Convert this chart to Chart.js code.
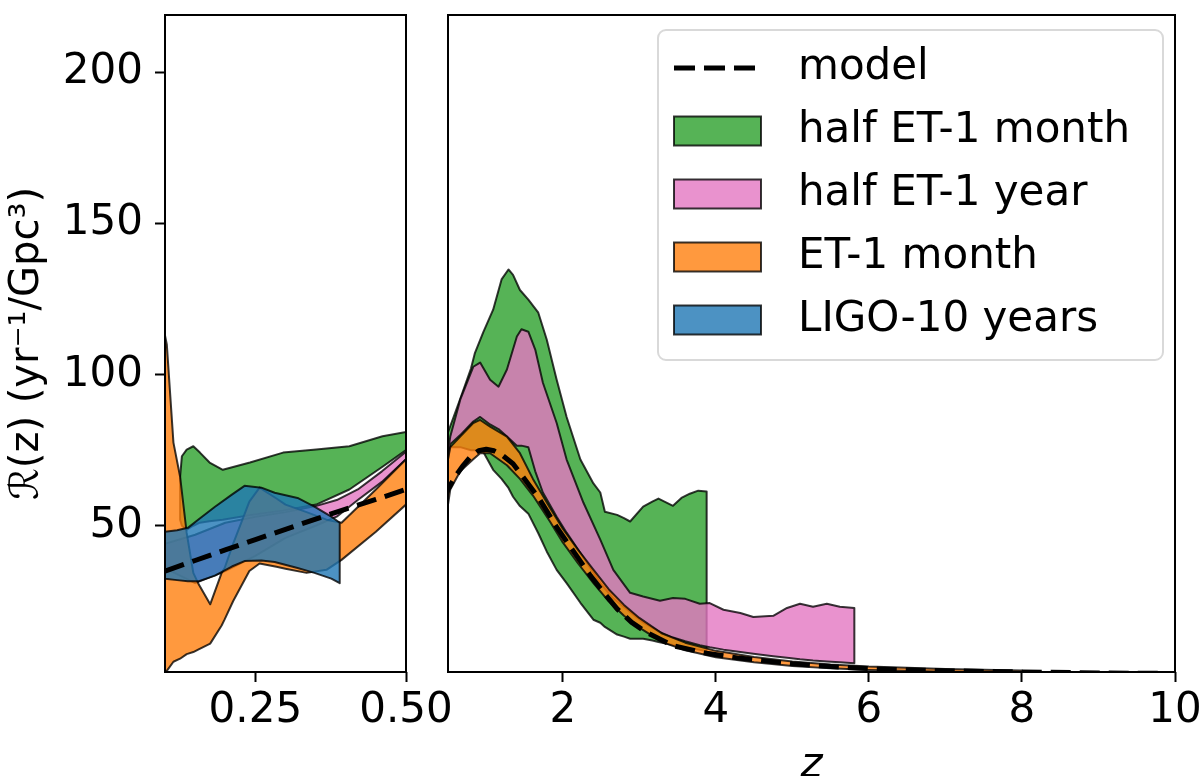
<!DOCTYPE html>
<html>
<head>
<meta charset="utf-8">
<title>R(z)</title>
<script src="https://cdn.jsdelivr.net/npm/chart.js@4.4.1/dist/chart.umd.min.js"></script>
<style>
  html, body { margin: 0; padding: 0; background: #fff; }
  #wrap { position: relative; width: 1200px; height: 776px; overflow: hidden; }
  #leftBox, #rightBox { position: absolute; top: 0; }
  #leftBox { left: 0; }
  #rightBox { left: 420px; }
</style>
</head>
<body>
<div id="wrap">
  <div id="leftBox"><canvas id="leftChart" width="480" height="776"></canvas></div>
  <div id="rightBox"><canvas id="rightChart" width="780" height="776"></canvas></div>
</div>
<script>
Chart.defaults.font.family = 'DejaVu Sans';
Chart.defaults.color = '#000';

const yMin = 1.6, yMax = 219;
const yTicks = [50, 100, 150, 200];
const leftTicks = [0.25, 0.5];
const rightTicks = [2, 4, 6, 8, 10];
const yTitle = 'ℛ(z) (yr⁻¹/Gpc³)';
const xTitle = 'z';
const legendOrder = ['model', 'half ET-1 month', 'half ET-1 year', 'ET-1 month', 'LIGO-10 years'];

// half ET-1 month
const greenZ  = [0.125, 0.128, 0.136, 0.147, 0.158, 0.174, 0.196, 0.241, 0.296, 0.351, 0.406, 0.461, 0.5, 0.53, 0.66, 0.8, 0.85, 0.96, 1.09, 1.2, 1.29, 1.35, 1.44, 1.55, 1.68, 1.79, 1.92, 2.05, 2.23, 2.4, 2.49, 2.55, 2.71, 2.8, 2.88, 3.05, 3.17, 3.25, 3.44, 3.55, 3.66, 3.77, 3.88];
const greenHi = [66, 73, 75.2, 76.3, 74.2, 70.9, 68.5, 70.9, 74.2, 75.2, 76.3, 79.6, 81, 83, 92, 102, 107, 114, 121.5, 131.5, 134.8, 133, 128, 124.8, 120.5, 111.6, 98.3, 86, 71.9, 64, 61, 54.6, 53.6, 52.5, 51.4, 56.3, 58, 59, 56.6, 59.2, 60.6, 61.6, 61.3];
const greenLo = [52, 50, 48.7, 50, 51, 51.5, 52, 53.5, 55, 57, 62, 69.5, 75, 76, 76, 75, 75, 74.5, 68.5, 65.5, 62.5, 59.6, 56.5, 54, 47.5, 41.5, 35.4, 31, 24.5, 18.9, 17.9, 16.5, 14, 13.3, 12.6, 12.6, 12, 11.5, 10.5, 10, 9.5, 9, 8.5];

// half ET-1 year
const pinkZ  = [0.1, 0.15, 0.2, 0.25, 0.3, 0.35, 0.385, 0.42, 0.46, 0.5, 0.53, 0.66, 0.83, 0.92, 1.05, 1.16, 1.27, 1.4, 1.46, 1.55, 1.64, 1.74, 1.92, 2.05, 2.27, 2.49, 2.66, 2.88, 3.05, 3.27, 3.44, 3.6, 3.79, 3.92, 4.1, 4.32, 4.49, 4.75, 4.93, 5.1, 5.27, 5.45, 5.62, 5.81];
const pinkHi = [44, 47, 51, 53, 54.5, 56.5, 58.5, 62, 68, 74.5, 79.5, 91.7, 102.6, 104, 98.3, 96, 101.7, 112.6, 115, 114.2, 108.3, 97.3, 84, 71.9, 57.6, 45.4, 35.4, 27.8, 26.6, 25.2, 26.1, 25.8, 24.2, 24.4, 22.2, 21.1, 19.8, 20.2, 22.8, 24.2, 23.2, 24.2, 23.2, 22.8];
const pinkLo = [36, 31, 35, 40, 46, 50, 53, 58.5, 64.5, 72, 77, 80, 84.5, 86, 83.5, 82, 79.5, 76.5, 76.5, 76, 68, 61, 53, 47.7, 39.5, 31, 26, 21.5, 18, 14.8, 13, 11.8, 10.5, 9.8, 9, 8.2, 7.6, 6.8, 6.3, 5.8, 5.4, 5.1, 4.8, 4.5];

// ET-1 month
const orangeZ  = [0.1, 0.103, 0.114, 0.125, 0.136, 0.147, 0.155, 0.175, 0.194, 0.199, 0.213, 0.24, 0.257, 0.285, 0.3, 0.335, 0.368, 0.393, 0.45, 0.5, 0.53, 0.66, 0.83, 0.92, 1.05, 1.27, 1.44, 1.61, 1.83, 2.0, 2.2, 2.4, 2.6, 2.8, 3.0, 3.3, 3.6, 4.0, 4.5, 5.0, 5.5, 6.0, 7.0, 8.0];
const orangeHi = [113, 110, 77.5, 66.3, 47.6, 34.4, 31, 24, 34.4, 36, 44, 58, 62.6, 59, 57, 54.5, 52, 51, 62, 72, 76, 79.5, 84, 85, 82.8, 79.5, 74, 65.5, 56, 49, 42, 35.5, 29, 23.8, 19.5, 14.3, 11.3, 8.6, 6.6, 5.1, 4.1, 3.4, 2.6, 2.1];
const orangeLo = [1.6, 2, 5, 6, 7.5, 8.2, 9, 11, 17, 19, 25, 35, 37.5, 36.4, 35.8, 34.4, 35.4, 38.7, 48, 57, 62, 68, 72, 74, 74, 70, 65.5, 60, 51.5, 44.5, 37.5, 31, 25, 20.2, 16.3, 11.5, 8.8, 6.5, 4.8, 3.6, 2.8, 2.3, 1.7, 1.4];

// LIGO-10 years
const blueZ  = [0.1, 0.12, 0.138, 0.155, 0.183, 0.211, 0.232, 0.26, 0.282, 0.32, 0.348, 0.376, 0.39];
const blueHi = [48, 48.5, 49.3, 52, 56.3, 60.3, 63.2, 62.6, 60.9, 59.2, 56.3, 53, 51];
const blueLo = [32.5, 32, 31.6, 31.6, 33.5, 36.5, 38.3, 38.5, 38, 36, 34.4, 32.5, 31];

// model
const modelZ = [0.1, 0.15, 0.2, 0.25, 0.3, 0.35, 0.4, 0.45, 0.5, 0.6, 0.7, 0.8, 0.9, 1.0, 1.1, 1.2, 1.35, 1.5, 1.7, 1.92, 2.14, 2.36, 2.53, 2.71, 2.9, 3.1, 3.44, 3.88, 4.3, 5.0, 5.5, 6.0, 7.0, 8.0, 9.0, 10.0];
const modelR = [35, 38.5, 42, 45.4, 48.8, 52.2, 55.5, 58.7, 62, 66.5, 70, 73, 74.8, 75.3, 74.8, 73.5, 70.5, 65.5, 58.6, 49.5, 41.5, 33.5, 28, 22.5, 18, 14.6, 10.3, 7.8, 6.2, 4.3, 3.4, 2.7, 2, 1.6, 1.3, 1.1];

const edge = 'rgba(0,0,0,0.78)';
const tickFont = { family: 'DejaVu Sans', size: 42 };

// closed outline: upper edge left->right, lower edge back
function band(z, hi, lo) {
  const pts = z.map((v, i) => ({ x: v, y: hi[i] }));
  for (let i = z.length - 1; i >= 0; i--) pts.push({ x: z[i], y: lo[i] });
  pts.push(pts[0]);
  return pts;
}

function makeDatasets() {
  return [
    { label: 'model', data: modelZ.map((v, i) => ({ x: v, y: modelR[i] })),
      borderColor: '#000', borderWidth: 5, borderDash: [20, 9], fill: false, order: 0 },
    { label: 'LIGO-10 years', data: band(blueZ, blueHi, blueLo), backgroundColor: 'rgba(31,119,180,0.8)', order: 1 },
    { label: 'ET-1 month', data: band(orangeZ, orangeHi, orangeLo), backgroundColor: 'rgba(255,127,14,0.8)', order: 2 },
    { label: 'half ET-1 year', data: band(pinkZ, pinkHi, pinkLo), backgroundColor: 'rgba(227,119,194,0.8)', order: 3 },
    { label: 'half ET-1 month', data: band(greenZ, greenHi, greenLo), backgroundColor: 'rgba(44,160,44,0.8)', order: 4 }
  ].map(d => Object.assign({ borderColor: edge, borderWidth: 2, pointRadius: 0, tension: 0,
    fill: 'shape', borderJoinStyle: 'round' }, d));
}

const frame = {
  id: 'frame',
  afterDraw(chart) {
    const { ctx, chartArea: a } = chart;
    ctx.save();
    ctx.strokeStyle = '#000';
    ctx.lineWidth = 2;
    ctx.strokeRect(a.left, a.top, a.right - a.left, a.bottom - a.top);
    ctx.restore();
  }
};

const boxLegend = {
  id: 'boxLegend',
  afterDatasetsDraw(chart) {
    const { ctx, chartArea } = chart;
    const w = 505, h = 330;
    const x0 = chartArea.right - 12 - w, y0 = chartArea.top + 15;
    ctx.save();
    ctx.beginPath();
    ctx.roundRect(x0, y0, w, h, 8);
    ctx.fillStyle = 'rgba(255,255,255,0.8)';
    ctx.fill();
    ctx.lineWidth = 2;
    ctx.strokeStyle = '#d9d9d9';
    ctx.stroke();
    ctx.font = '42px "DejaVu Sans"';
    ctx.textBaseline = 'middle';
    legendOrder.forEach((name, i) => {
      const ds = chart.data.datasets.find(d => d.label === name);
      const cy = y0 + 38 + i * 63;
      const px = x0 + 16;
      if (ds.fill === false) {
        ctx.setLineDash([21, 9]);
        ctx.lineWidth = 5;
        ctx.strokeStyle = '#000';
        ctx.beginPath();
        ctx.moveTo(px, cy);
        ctx.lineTo(px + 87, cy);
        ctx.stroke();
        ctx.setLineDash([]);
      } else {
        ctx.fillStyle = ds.backgroundColor;
        ctx.fillRect(px, cy - 14.5, 87, 29);
        ctx.lineWidth = 2;
        ctx.strokeStyle = edge;
        ctx.strokeRect(px, cy - 14.5, 87, 29);
      }
      ctx.fillStyle = '#000';
      ctx.fillText(name, x0 + 140, cy);
    });
    ctx.restore();
  }
};

function tickGrid() {
  return { drawOnChartArea: false, drawTicks: true, tickLength: 10, tickWidth: 2, tickColor: '#000' };
}

new Chart(document.getElementById('leftChart'), {
  type: 'line',
  data: { datasets: makeDatasets() },
  options: {
    responsive: false,
    animation: false,
    events: [],
    layout: { padding: { left: 0, top: 15, right: 74, bottom: 0 } },
    plugins: { legend: { display: false }, tooltip: { enabled: false } },
    scales: {
      x: {
        type: 'linear', min: 0.1, max: 0.5,
        afterBuildTicks: s => { s.ticks = leftTicks.map(v => ({ value: v })); },
        ticks: { font: tickFont, padding: 4, maxRotation: 0, autoSkip: false, callback: v => v.toFixed(2) },
        grid: tickGrid(),
        border: { display: false },
        afterFit: s => { s.height = 104; s.paddingLeft = 0; s.paddingRight = 0; }
      },
      y: {
        type: 'linear', min: yMin, max: yMax,
        afterBuildTicks: s => { s.ticks = yTicks.map(v => ({ value: v })); },
        ticks: { font: tickFont, padding: 12, callback: v => String(v) },
        grid: tickGrid(),
        border: { display: false },
        title: { display: true, text: yTitle, font: { family: 'DejaVu Sans', size: 40 }, padding: { top: 4, bottom: 0 } },
        afterFit: s => { s.width = 165; s.paddingTop = 0; s.paddingBottom = 0; }
      }
    }
  },
  plugins: [frame]
});

new Chart(document.getElementById('rightChart'), {
  type: 'line',
  data: { datasets: makeDatasets() },
  options: {
    responsive: false,
    animation: false,
    events: [],
    layout: { padding: { left: 28, top: 15, right: 25, bottom: 0 } },
    plugins: { legend: { display: false }, tooltip: { enabled: false } },
    scales: {
      x: {
        type: 'linear', min: 0.5, max: 10,
        afterBuildTicks: s => { s.ticks = rightTicks.map(v => ({ value: v })); },
        ticks: { font: tickFont, padding: 4, maxRotation: 0, autoSkip: false, callback: v => String(v) },
        grid: tickGrid(),
        border: { display: false },
        title: { display: true, text: xTitle, font: { family: 'DejaVu Sans', size: 42, style: 'italic' }, padding: { top: 0, bottom: -15 } },
        afterFit: s => { s.height = 104; s.paddingLeft = 0; s.paddingRight = 0; }
      },
      y: {
        type: 'linear', min: yMin, max: yMax, display: false,
        afterFit: s => { s.paddingTop = 0; s.paddingBottom = 0; }
      }
    }
  },
  plugins: [frame, boxLegend]
});
</script>
</body>
</html>
